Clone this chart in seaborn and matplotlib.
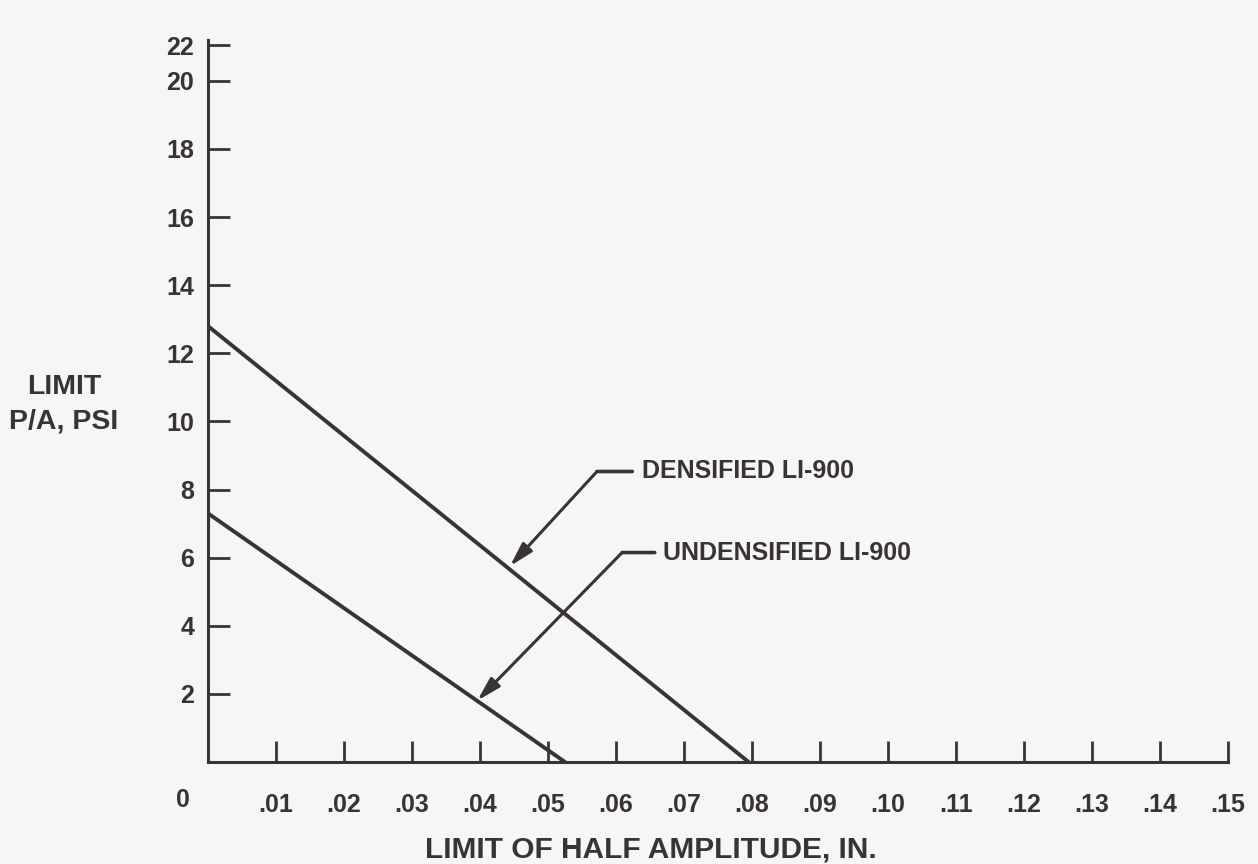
import matplotlib
matplotlib.use("Agg")
import matplotlib.pyplot as plt
import seaborn as sns
import pandas as pd

# values
half_amplitude = [0.0, 0.0795, 0.0, 0.0525]
limit_pa = [12.8, 0.0, 7.3, 0.0]
material = ["DENSIFIED LI-900", "DENSIFIED LI-900",
            "UNDENSIFIED LI-900", "UNDENSIFIED LI-900"]

x_ticks = [0.01, 0.02, 0.03, 0.04, 0.05, 0.06, 0.07, 0.08,
           0.09, 0.10, 0.11, 0.12, 0.13, 0.14, 0.15]
x_tick_labels = [".01", ".02", ".03", ".04", ".05", ".06", ".07", ".08",
                 ".09", ".10", ".11", ".12", ".13", ".14", ".15"]
y_ticks = [2, 4, 6, 8, 10, 12, 14, 16, 18, 20, 21.05]   # top tick sits low in the drawing
y_tick_labels = ["2", "4", "6", "8", "10", "12", "14", "16", "18", "20", "22"]

# callouts: label, text position, knee, arrow head
callout_labels = ["DENSIFIED LI-900", "UNDENSIFIED LI-900"]
callout_text = [(0.0638, 8.53), (0.0669, 6.15)]
callout_knee = [(0.0572, 8.53), (0.0609, 6.15)]
callout_bar_end = [(0.0624, 8.53), (0.0657, 6.15)]
callout_head = [(0.0444, 5.75), (0.0396, 1.80)]

ink = "#3a3333"
paper = "#f6f6f5"

sns.set_style("white")
plt.rcParams["font.family"] = ["Liberation Sans", "DejaVu Sans"]
plt.rcParams["font.weight"] = "bold"

df = pd.DataFrame({"x": half_amplitude, "y": limit_pa, "material": material})

fig = plt.figure(figsize=(12.58, 8.64), dpi=100, facecolor=paper)
ax = fig.add_axes([208 / 1258, 1 - 762 / 864, 1020 / 1258, 722 / 864])
ax.set_facecolor(paper)

sns.lineplot(data=df, x="x", y="y", units="material", estimator=None,
             color=ink, linewidth=2.8, ax=ax, legend=False, sort=False)

ax.set_xlim(0, 0.15)
ax.set_ylim(0, 21.2)
for side in ["top", "right"]:
    ax.spines[side].set_visible(False)
for side in ["left", "bottom"]:
    ax.spines[side].set_color(ink)
    ax.spines[side].set_linewidth(2.2)

ax.set_xticks(x_ticks)
ax.set_xticklabels(x_tick_labels)
ax.set_yticks(y_ticks)
ax.set_yticklabels(y_tick_labels)
ax.tick_params(axis="x", bottom=True, direction="in", length=15, width=2.0,
               color=ink, pad=22, labelsize=18, labelcolor=ink)
ax.tick_params(axis="y", left=True, direction="in", length=16, width=2.0,
               color=ink, pad=10, labelsize=18, labelcolor=ink)
for lab in ax.get_xticklabels() + ax.get_yticklabels():
    lab.set_fontweight("bold")
ax.set_xlabel("")
ax.set_ylabel("")

ax.annotate("0", xy=(0, 0), xytext=(-25, -38), textcoords="offset pixels",
            ha="center", va="center", fontsize=18, fontweight="bold", color=ink)

for lab, txt, knee, bar_end, head in zip(callout_labels, callout_text, callout_knee,
                                         callout_bar_end, callout_head):
    ax.annotate("", xy=knee, xytext=bar_end,
                arrowprops=dict(arrowstyle="-", color=ink, lw=2.6,
                                shrinkA=0, shrinkB=0))
    ax.annotate("", xy=head, xytext=knee,
                arrowprops=dict(arrowstyle="-|>,head_length=0.8,head_width=0.22",
                                color=ink, lw=2.2, shrinkA=0, shrinkB=0,
                                mutation_scale=18))
    ax.text(txt[0], txt[1], lab, ha="left", va="center", fontsize=18,
            fontweight="bold", color=ink)

fig.text(64 / 1258, 1 - 404 / 864, "LIMIT\nP/A, PSI", ha="center", va="center",
         fontsize=20.5, fontweight="bold", color=ink, linespacing=1.45)
fig.text(651 / 1258, 1 - 850 / 864, "LIMIT OF HALF AMPLITUDE, IN.", ha="center",
         va="center", fontsize=21.5, fontweight="bold", color=ink)

fig.savefig("out.png", dpi=100, facecolor=paper)
